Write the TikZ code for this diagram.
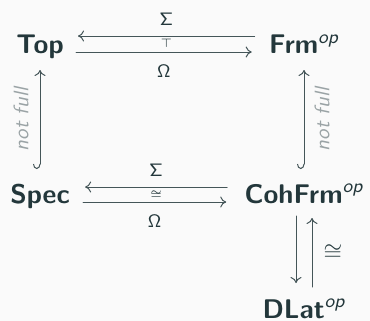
\documentclass[tikz,border=0pt]{standalone}
\usetikzlibrary{arrows.meta}
\renewcommand{\familydefault}{\sfdefault}
\definecolor{mDarkTeal}{HTML}{23373B}
\definecolor{mBg}{HTML}{FAFAFA}
\definecolor{mGrey}{HTML}{9AA3A5}
\newcommand{\opp}{\textsuperscript{\normalfont\itshape op}}
\tikzset{
  obj/.style={inner sep=0pt, text=mDarkTeal, font=\fontsize{13.5}{16}\selectfont\bfseries},
  mor/.style={draw=mDarkTeal!85, line width=0.5pt, -{Computer Modern Rightarrow[length=3pt,width=5.5pt]}},
  incl/.style={mor, {Hooks[right,length=2.5pt,width=7pt]}-{Computer Modern Rightarrow[length=3pt,width=5.5pt]}},
  lbl/.style={inner sep=1pt, text=mDarkTeal, font=\fontsize{12.5}{15}\selectfont},
  note/.style={inner sep=1pt, text=mGrey, font=\fontsize{10.5}{12}\selectfont\itshape}
}
\begin{document}
\begin{tikzpicture}[x=0.5pt, y=-0.5pt, line join=round, line cap=round]
	\fill[mBg] (0,0) rectangle (370,321);
	\useasboundingbox (0,0) rectangle (370,321);
	% objects, placed on their baselines
	\node[obj, anchor=base] (top) at (40,54) {Top};
	\node[obj, anchor=base] (frm) at (304,54) {Frm\opp};
	\node[obj, anchor=base] (spec) at (40,203) {Spec};
	\node[obj, anchor=base] (cohfrm) at (304,203) {CohFrm\opp};
	\node[obj, anchor=base] (dlat) at (304,318) {DLat\opp};
	% adjunction on top
	\draw[mor] ([xshift=-7pt,yshift=9pt]frm.base west) -- ([xshift=7pt,yshift=9pt]top.base east)
		node[lbl, midway, above=4pt] {$\scriptstyle\mathsf{\Sigma}$}
		node[lbl, midway, below=0.5pt] {$\scriptscriptstyle\top$};
	\draw[mor] ([xshift=6pt,yshift=1pt]top.base east) -- ([xshift=-8.5pt,yshift=1pt]frm.base west)
		node[lbl, midway, below=5pt] {$\scriptstyle\mathsf{\Omega}$};
	% equivalence below
	\draw[mor] ([xshift=-8.5pt,yshift=8pt]cohfrm.base west) -- ([xshift=7.5pt,yshift=8pt]spec.base east)
		node[lbl, midway, above=4pt] {$\scriptstyle\mathsf{\Sigma}$}
		node[lbl, midway, below=0.5pt] {$\scriptscriptstyle\cong$};
	\draw[mor] ([xshift=6.5pt,yshift=0.5pt]spec.base east) -- ([xshift=-9pt,yshift=0.5pt]cohfrm.base west)
		node[lbl, midway, below=5pt] {$\scriptstyle\mathsf{\Omega}$};
	% inclusions
	\draw[incl] ([yshift=17pt]spec.base) -- ([yshift=-8pt]spec.base |- top.base)
		node[note, midway, above=4.5pt, sloped] {not full};
	\draw[incl] ([yshift=17pt]cohfrm.base) -- ([yshift=-8pt]cohfrm.base |- frm.base)
		node[note, midway, below=4pt, sloped] {not full};
	% distributive lattices
	\draw[mor] ([xshift=-4pt,yshift=-6.5pt]cohfrm.base) -- ([xshift=-4pt,yshift=17.5pt]cohfrm.base |- dlat.base);
	\draw[mor] ([xshift=4pt,yshift=15.5pt]cohfrm.base |- dlat.base) -- ([xshift=4pt,yshift=-7.5pt]cohfrm.base)
		node[lbl, midway, right=4.5pt] {$\cong$};
\end{tikzpicture}
\end{document}
